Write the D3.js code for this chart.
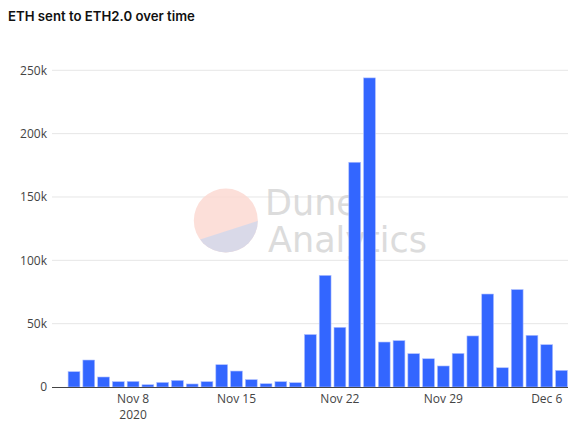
<!DOCTYPE html>
<html>
<head>
<meta charset="utf-8">
<script src="https://cdn.jsdelivr.net/npm/d3@7"></script>
<style>
  body { margin: 0; background: #fff; }
  svg { display: block; }
</style>
</head>
<body>
<svg width="583" height="431"></svg>
<script>
// daily ETH deposited to the ETH2.0 contract, Nov 4 - Dec 7 2020
var days = ["2020-11-04","2020-11-05","2020-11-06","2020-11-07","2020-11-08","2020-11-09",
  "2020-11-10","2020-11-11","2020-11-12","2020-11-13","2020-11-14","2020-11-15","2020-11-16",
  "2020-11-17","2020-11-18","2020-11-19","2020-11-20","2020-11-21","2020-11-22","2020-11-23",
  "2020-11-24","2020-11-25","2020-11-26","2020-11-27","2020-11-28","2020-11-29","2020-11-30",
  "2020-12-01","2020-12-02","2020-12-03","2020-12-04","2020-12-05","2020-12-06","2020-12-07"];
var ethSent = [12100, 21300, 7900, 4200, 4400, 1800, 3600, 5200, 2400, 4200, 17600, 12600, 5800,
  2600, 4200, 3400, 41400, 88100, 47100, 177400, 244000, 35500, 36600, 26300, 22300, 16600, 26500,
  40300, 73400, 15200, 76900, 40800, 33400, 13100];
var yTicks = [0, 50000, 100000, 150000, 200000, 250000];
var xTicks = ["2020-11-08","2020-11-15","2020-11-22","2020-11-29","2020-12-06"];

var parse = d3.utcParse("%Y-%m-%d");
var DAY = 864e5;
var data = days.map(function(d, i) { return { date: parse(d), value: ethSent[i] }; });

var svg = d3.select("svg");
var left = 52, right = 568, bottom = 387;

var x = d3.scaleUtc()
    .domain([new Date(+data[0].date - 1.49 * DAY), new Date(+data[data.length - 1].date + 0.44 * DAY)])
    .range([left, right]);
var y = d3.scaleLinear().domain([0, 250000]).range([bottom, 70.3]);
var step = x(new Date(DAY)) - x(new Date(0));
var barW = step * 0.8;

// title
svg.append("text")
    .attr("x", 8).attr("y", 21)
    .attr("font-family", "Inter, sans-serif")
    .attr("font-size", 13.2).attr("font-weight", 600)
    .attr("fill", "#111")
    .text("ETH sent to ETH2.0 over time");

// grid
svg.append("g")
  .selectAll("line")
  .data(yTicks.slice(1))
  .enter().append("line")
    .attr("x1", left).attr("x2", right)
    .attr("y1", function(d) { return y(d); })
    .attr("y2", function(d) { return y(d); })
    .attr("stroke", "#e6e6e6");

// watermark
var wm = svg.append("g").attr("opacity", 0.85);
var cx = 225.8, cy = 220.5, r = 32;
wm.append("clipPath").attr("id", "wmclip")
  .append("circle").attr("cx", cx).attr("cy", cy).attr("r", r);
wm.append("circle").attr("cx", cx).attr("cy", cy).attr("r", r).attr("fill", "#fcdad3");
wm.append("path")
    .attr("clip-path", "url(#wmclip)")
    .attr("d", "M180,246 L270,217 L270,260 L180,260 Z")
    .attr("fill", "#d3d3e5");
wm.append("text")
    .attr("x", 265).attr("y", 215)
    .attr("font-family", "'DejaVu Sans', sans-serif").attr("font-size", 35)
    .attr("fill", "#d6d6d6")
    .text("Dune");
wm.append("text")
    .attr("x", 268).attr("y", 251.5)
    .attr("font-family", "'DejaVu Sans', sans-serif").attr("font-size", 35)
    .attr("fill", "#d6d6d6")
    .text("Analytics");

// bars
svg.append("g")
  .selectAll("rect")
  .data(data)
  .enter().append("rect")
    .attr("x", function(d) { return x(d.date) - barW / 2; })
    .attr("width", barW)
    .attr("y", function(d) { return y(d.value); })
    .attr("height", function(d) { return bottom - y(d.value); })
    .attr("fill", "#3366ff")
    .attr("stroke", "#aebfff")
    .attr("stroke-width", 0.6);

// x axis line
svg.append("line")
    .attr("x1", left).attr("x2", right)
    .attr("y1", bottom + 0.5).attr("y2", bottom + 0.5)
    .attr("stroke", "#444").attr("stroke-width", 1);

// y tick labels
svg.append("g")
  .selectAll("text")
  .data(yTicks)
  .enter().append("text")
    .attr("x", 47)
    .attr("y", function(d) { return y(d); })
    .attr("dy", "0.36em")
    .attr("text-anchor", "end")
    .attr("font-family", "'Open Sans', sans-serif").attr("font-size", 12)
    .attr("fill", "#444")
    .text(function(d) { return d === 0 ? "0" : (d / 1000) + "k"; });

// x tick labels
var fmt = d3.utcFormat("%b %-d");
var xt = svg.append("g")
  .selectAll("text")
  .data(xTicks.map(parse))
  .enter().append("text")
    .attr("x", function(d) { return x(d); })
    .attr("y", 403)
    .attr("text-anchor", "middle")
    .attr("font-family", "'Open Sans', sans-serif").attr("font-size", 12)
    .attr("fill", "#444");
xt.append("tspan").text(function(d) { return fmt(d); });
xt.filter(function(d, i) { return i === 0; })
  .append("tspan")
    .attr("x", function(d) { return x(d); })
    .attr("dy", 16)
    .text("2020");
</script>
</body>
</html>
